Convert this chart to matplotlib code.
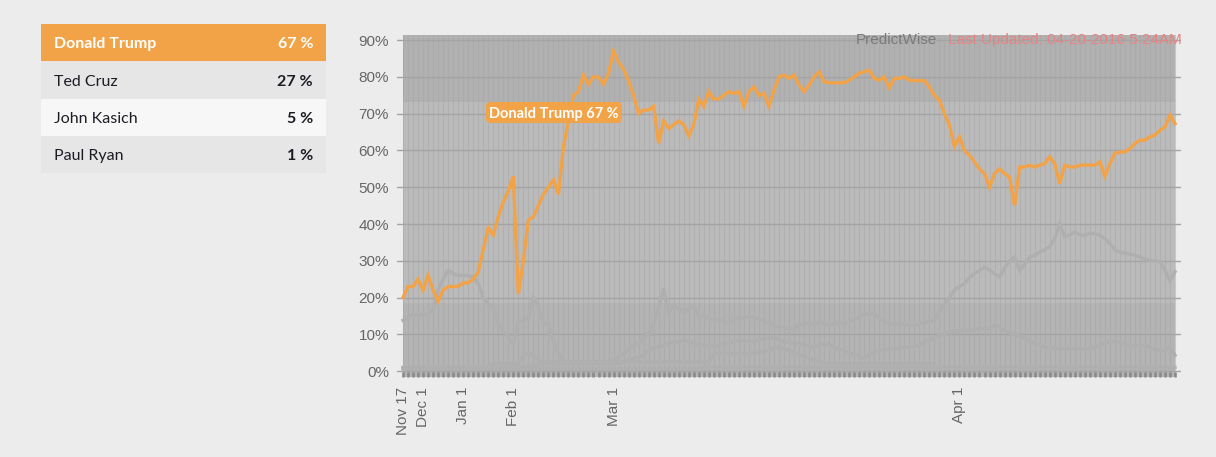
import matplotlib
matplotlib.use('Agg')
import matplotlib.pyplot as plt
import numpy as np
from matplotlib.patches import Rectangle, FancyBboxPatch

# ---------------- data ----------------
candidates = ['Donald Trump', 'Ted Cruz', 'John Kasich', 'Paul Ryan']
current_pct = [67, 27, 5, 1]

tick_idx = [0, 4, 12, 22, 42, 111]
tick_labels = ['Nov 17', 'Dec 1', 'Jan 1', 'Feb 1', 'Mar 1', 'Apr 1']
y_ticks = [0, 10, 20, 30, 40, 50, 60, 70, 80, 90]
y_tick_labels = ['0%', '10%', '20%', '30%', '40%', '50%', '60%', '70%', '80%', '90%']

trump = [20, 23, 23, 25, 22, 26, 22, 19, 22, 23,
         23, 23, 24, 24, 25, 27, 33, 39, 37, 42,
         46, 49, 53, 21, 30, 41, 42, 45, 48, 50,
         52, 48, 61, 68, 75, 76, 80.5, 78, 80, 80,
         78, 81, 87, 84, 82, 79, 75, 70, 71, 71,
         72, 62, 68, 66, 67, 68, 67, 64, 67, 74,
         72, 76, 74, 74, 75, 76, 75.5, 76, 72, 76,
         77.3, 75, 75.5, 72, 76.4, 80, 80.5, 79.6, 80.5, 77.8,
         76, 77.8, 80, 81.4, 78.7, 78.4, 78.4, 78.4, 78.4, 79.1,
         80, 81, 81.4, 81.8, 79.6, 79.1, 80, 77, 79.6, 79.6,
         80, 79.1, 79, 79, 79, 77.3, 75, 73.7, 70, 66.9,
         61, 63.7, 60, 58.7, 56.9, 55, 53.7, 50, 53.7, 55,
         53.7, 52.8, 45, 55.5, 55.5, 56, 55.5, 56, 56.4, 58.3,
         56.4, 51, 56, 55.5, 55.5, 56, 56, 56, 56, 56.9,
         53, 56.4, 59.2, 59.6, 59.6, 60.5, 61.9, 62.8, 62.8, 63.7,
         64.2, 65.5, 66.4, 69.6, 67.3]

cruz = [1, 1, 1, 1, 1, 1, 1, 1, 1, 1,
        1, 1, 1, 1, 1, 1, 1, 1, 2, 2,
        2, 2, 2, 2, 4.5, 4.7, 4.5, 3, 2.5, 2.5,
        2.5, 2.5, 2.5, 2.5, 2.5, 2.5, 2.5, 2.5, 2.5, 2.5,
        2.5, 2.5, 3, 4, 4.8, 6, 7, 7.5, 9, 10.2,
        13, 17.5, 22.5, 16, 18, 17, 16, 17, 17.5, 14.8,
        15, 14.3, 14, 13.9, 13.5, 13, 14, 14.3, 14.5, 14.8,
        14.8, 14, 13.5, 13, 12.5, 12, 12, 11.5, 11.5, 12.5,
        12.9, 13, 12.5, 13.5, 12.9, 12.5, 12.9, 13.2, 12.9, 13.4,
        14, 14.8, 15.3, 15.6, 15.6, 14.5, 13.5, 13, 12.9, 12.6,
        12.8, 12.4, 12.4, 12.8, 13.2, 13.5, 13.8, 16, 18.3, 20,
        22, 23, 23.8, 25.5, 26.5, 27.4, 28.3, 27.5, 26.5, 25.6,
        28, 30, 31, 27.4, 29, 31, 31.5, 32.4, 33, 33.8,
        36, 40, 36.5, 37, 37.8, 37, 36.9, 37.5, 37.4, 37,
        36, 34.7, 33, 32.4, 32, 31.9, 31.5, 31, 30.5, 30.1,
        30, 29.7, 27.4, 24.5, 27]

kasich = [0.8, 0.8, 0.8, 0.8, 0.8, 0.8, 0.8, 0.8, 0.8, 0.8,
          0.8, 0.8, 0.8, 0.8, 0.8, 0.8, 0.8, 0.8, 0.8, 0.8,
          1, 1, 1, 1, 1.2, 1.5, 1.5, 1.8, 2, 2,
          2, 2, 2, 2, 2, 2, 2, 2, 2, 2,
          2, 2, 2, 2.2, 2.5, 3, 3.5, 3.9, 4.5, 5.5,
          6.2, 6.6, 7, 7.5, 8, 8, 8.4, 8, 7.5, 7.1,
          7, 7.1, 6.6, 7, 7.5, 7.5, 8, 8.4, 8.2, 8,
          8, 8.5, 8.9, 8.9, 9, 8.5, 8, 7.8, 7.5, 7.4,
          7, 6.8, 6.5, 7, 7.4, 7.2, 6.5, 6, 5.6, 5,
          4.5, 4, 3.4, 4.5, 5.2, 5.6, 5.8, 6, 6, 6.2,
          6.5, 6.5, 6.8, 7.2, 7.9, 8.5, 9, 9.7, 10.2, 10.6,
          10.8, 11, 11, 11.2, 11.3, 11.5, 11.5, 11.5, 12.5, 12,
          11, 10.5, 10, 9.5, 8.8, 8.3, 7.5, 7.2, 6.5, 6.5,
          6.2, 6, 6, 6, 6, 6, 6, 6.2, 6.6, 7,
          7.5, 7.9, 8, 7.6, 7.4, 7, 7, 7, 7, 6.5,
          6, 5.6, 5.6, 6.5, 4.3]

# Rubio's series stops when he leaves the race
rubio = [13.8, 14.5, 15.6, 15.1, 15.5, 15.6, 16.5, 22, 25, 27.4,
         26.5, 26, 26, 26, 25.6, 23.8, 20, 18.2, 17.4, 12.9,
         11, 9.3, 7.4, 13.3, 13.8, 14.7, 20, 17.4, 13.3, 12.4,
         8.3, 4.7, 2.9, 2.5, 2.5, 2.5, 2.5, 2.5, 2.5, 2.5,
         2.5, 2.5, 2.5, 2.5, 2.5, 2.5, 2.5, 2.5, 2.5, 2.5,
         2.5, 2.5, 2.5, 2.5, 2.5, 2.5, 2.5, 2.5, 2.5, 2.5,
         2.5, 2.5, 4.6, 4.8, 4.8, 4.8, 4.8, 4.8, 4.8, 4.8,
         5, 5.2, 5.5, 5.7, 6.2, 6.6, 6, 5.6, 5, 4.5,
         4, 3.5, 3, 2.6, 2.3, 2, 2, 2, 2, 2,
         2, 2, 2, 2, 2, 2, 2, 2, 2, 2,
         2, 2, 2, 2, 2, 2, 2]

ryan = [0.6, 0.6, 0.6, 0.6, 0.6, 0.6, 0.6, 0.6, 0.6, 0.6,
        0.6, 0.6, 0.6, 0.6, 0.6, 0.6, 0.6, 0.6, 0.6, 0.6,
        0.6, 0.6, 0.6, 0.6, 0.6, 0.6, 0.6, 0.6, 0.6, 0.6,
        0.6, 0.6, 0.6, 0.6, 0.6, 0.6, 0.6, 0.6, 0.6, 0.6,
        0.6, 0.6, 0.6, 0.6, 0.6, 0.6, 0.6, 0.6, 0.6, 0.6,
        0.6, 0.6, 0.6, 0.6, 0.6, 0.6, 0.6, 0.6, 0.6, 0.6,
        1, 1, 1, 1, 1, 1, 1, 1, 1, 1,
        1, 1, 1, 1, 1, 1, 1, 1, 1, 1,
        1, 1, 1, 1, 1, 1, 1, 1, 1, 1,
        1, 1, 1, 1, 1, 1, 1, 1, 1, 1,
        1, 1, 1, 1, 1, 1, 1, 1, 1, 1,
        1, 1, 1, 1, 1, 1, 1, 1, 1, 1,
        1, 1, 1, 1, 1, 1, 1, 1, 1, 1,
        1, 1, 1, 1, 1, 1, 1, 1, 1, 1,
        1, 1, 1, 1, 1, 1, 1, 1, 1, 1,
        1, 1, 1, 1, 1]

# ---------------- styling ----------------
W, H = 1216, 457
BG = '#ececec'
ORANGE = '#f2a347'
GREY_LINE = '#afafaf'

fig = plt.figure(figsize=(W / 100, H / 100), dpi=100, facecolor=BG)


def px(x, y):
    """pixel (from top-left) -> inches for fig.dpi_scale_trans"""
    return x / 100.0, (H - y) / 100.0


T = fig.dpi_scale_trans

# ---------------- left table ----------------
row_top0, row_h = 24, 37.25
tab_left, tab_right = 41, 326
row_colors = [ORANGE, '#e6e6e6', '#f7f7f7', '#e6e6e6']
for k, (name, pct) in enumerate(zip(candidates, current_pct)):
    top = row_top0 + k * row_h
    x0, y0 = px(tab_left, top + row_h)
    fig.patches.append(Rectangle((x0, y0), (tab_right - tab_left) / 100, row_h / 100,
                                 transform=T, facecolor=row_colors[k], edgecolor='none'))
    is_lead = (k == 0)
    col = 'white' if is_lead else '#1c1c24'
    bx, by = px(54, top + 24.3)
    fig.text(bx, by, name, transform=T, ha='left', va='baseline', fontsize=11.5,
             family='Lato', fontweight='bold' if is_lead else 'normal', color=col)
    vx, vy = px(313, top + 24.3)
    fig.text(vx, vy, f'{pct} %', transform=T, ha='right', va='baseline', fontsize=11.5,
             family='Lato', fontweight='bold', color=col)

# ---------------- chart ----------------
ax_l, ax_r, ax_t, ax_b = 397, 1181, 35, 377
ax = fig.add_axes([ax_l / W, (H - ax_b) / H, (ax_r - ax_l) / W, (ax_b - ax_t) / H])
ax.set_facecolor('none')

n = len(trump)
x = np.arange(n)
ppi = (1175 - 403) / (n - 1)
ax.set_xlim(-(403 - ax_l) / ppi, (n - 1) + (ax_r - 1175) / ppi)
ax.set_ylim(-1.6, 91.4)

# plot area shading
ax.axvspan(0, n - 1, color='#bbbbbb', zorder=0.1, lw=0)
ax.axvspan(0, n - 1, ymin=(73.3 + 1.6) / 93, ymax=1, color='#b1b1b1', zorder=0.2, lw=0)
ax.axvspan(0, n - 1, ymin=0, ymax=(18.5 + 1.6) / 93, color='#b4b4b4', zorder=0.2, lw=0)

ax.set_axisbelow(True)
ax.set_xticks(x, minor=True)
ax.set_xticks(tick_idx)
ax.set_xticklabels(tick_labels, rotation=90, ha='center', va='top',
                   fontsize=11, family='Liberation Sans', color='#666666')
ax.set_yticks(y_ticks)
ax.set_yticklabels(y_tick_labels, fontsize=11, family='Liberation Sans', color='#666666')

ax.grid(which='minor', axis='x', color='#a6a6a6', lw=0.8, alpha=0.5)
ax.grid(which='major', axis='x', color='#a6a6a6', lw=0.8, alpha=0.5)
ax.grid(which='major', axis='y', color='#a4a4a4', lw=1.0)

ax.tick_params(axis='x', which='both', direction='in', length=3.6, width=1.9,
               color='#8a8a8a', pad=7)
ax.tick_params(axis='y', which='both', length=0, pad=5.8)
for s in ax.spines.values():
    s.set_visible(False)

# grey lines for other candidates
for series in (rubio, kasich, ryan, cruz):
    ax.plot(x[:len(series)], series, color=GREY_LINE, lw=2.4, zorder=2,
            solid_joinstyle='miter')

ax.plot(x, trump, color=ORANGE, lw=2.4, zorder=3, solid_joinstyle='miter')

# label box for the leader
bx0, by0 = px(486, 123)
fig.patches.append(FancyBboxPatch((bx0, by0), 1.36, 0.21, transform=T,
                                  boxstyle='round,pad=0,rounding_size=0.045',
                                  facecolor=ORANGE, edgecolor='none', zorder=5))
tx, ty = px(554, 117.7)
fig.text(tx, ty, f'{candidates[0]} {current_pct[0]} %', transform=T, ha='center',
         va='baseline', fontsize=10.5, family='Lato', fontweight='bold',
         color='white', zorder=6)

# top-right credits
cx, cy = px(1182, 44)
fig.text(cx, cy, 'Last Updated: 04-20-2016 5:24AM', transform=T, ha='right',
         va='baseline', fontsize=11, family='Liberation Sans', color='#e88282')
px2, py2 = px(937, 44)
fig.text(px2, py2, 'PredictWise', transform=T, ha='right', va='baseline',
         fontsize=11, family='Liberation Sans', color='#7a7a7a')

fig.savefig('out.png', dpi=100, facecolor=BG)
